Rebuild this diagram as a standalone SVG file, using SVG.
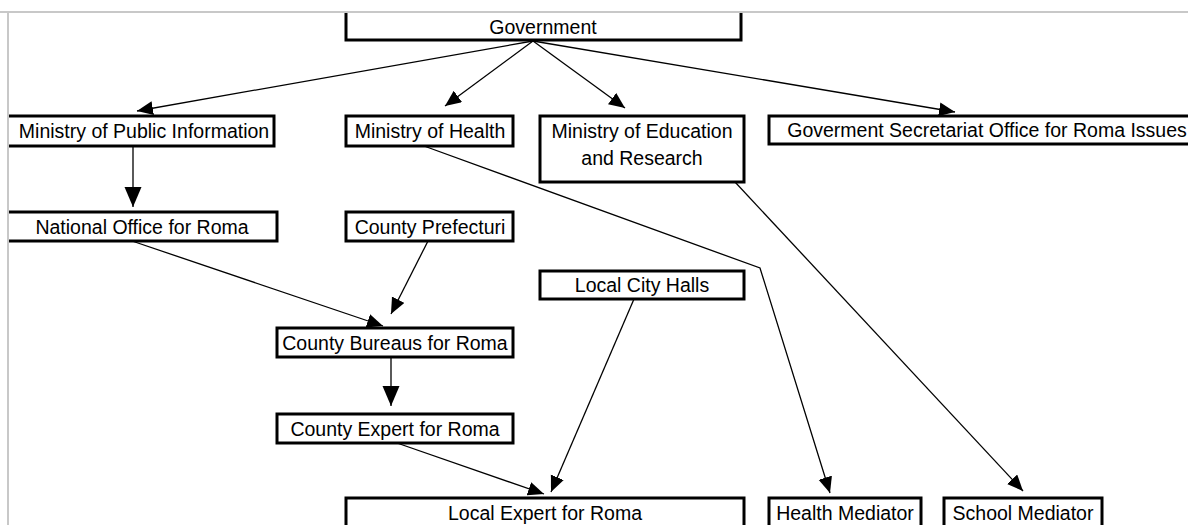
<svg xmlns="http://www.w3.org/2000/svg" width="1188" height="525" viewBox="0 0 1188 525">
  <style>
    .box { fill: #ffffff; stroke: #000000; stroke-width: 3; }
    .lbl { font-family: "Liberation Sans", Arial, sans-serif; font-size: 19.5px; fill: #000000; text-anchor: middle; }
    .con { fill: none; stroke: #000000; stroke-width: 1.3; }
    .frame { fill: none; stroke: #c8c8c8; stroke-width: 2; }
  </style>
  <defs>
    <marker id="ah" markerUnits="userSpaceOnUse" markerWidth="17" markerHeight="15" refX="16" refY="7" orient="auto">
      <path d="M0,0 L16,7 L0,14 z" fill="#000000"/>
    </marker>
    <marker id="ahL" markerUnits="userSpaceOnUse" markerWidth="21" markerHeight="18" refX="20" refY="8.5" orient="auto">
      <path d="M0,0 L20,8.5 L0,17 z" fill="#000000"/>
    </marker>
    <clipPath id="clip">
      <rect x="8" y="12" width="1180" height="513"/>
    </clipPath>
  </defs>
  <rect x="0" y="0" width="1188" height="525" fill="#ffffff"/>
  <g clip-path="url(#clip)">
    <g id="connectors">
      <line class="con" x1="533" y1="41" x2="137" y2="111" marker-end="url(#ah)"/>
      <line class="con" x1="533" y1="41" x2="445" y2="106" marker-end="url(#ah)"/>
      <line class="con" x1="533" y1="41" x2="625" y2="108" marker-end="url(#ah)"/>
      <line class="con" x1="533" y1="41" x2="955" y2="112" marker-end="url(#ah)"/>
      <line class="con" x1="133" y1="146" x2="133" y2="207" marker-end="url(#ahL)"/>
      <polyline class="con" points="424,146 760,268 830,493" marker-end="url(#ah)"/>
      <line class="con" x1="735" y1="182" x2="1023" y2="491" marker-end="url(#ah)"/>
      <line class="con" x1="132" y1="241" x2="383" y2="326" marker-end="url(#ah)"/>
      <line class="con" x1="428" y1="241" x2="391" y2="314" marker-end="url(#ah)"/>
      <line class="con" x1="391" y1="357" x2="391" y2="406" marker-end="url(#ahL)"/>
      <line class="con" x1="397" y1="443" x2="544" y2="494" marker-end="url(#ah)"/>
      <line class="con" x1="634" y1="299" x2="551" y2="492" marker-end="url(#ah)"/>
    </g>
    <g id="government">
      <rect class="box" x="346" y="0" width="395" height="40"/>
      <text class="lbl" x="543" y="34">Government</text>
    </g>
    <g id="ministry-public-information">
      <rect class="box" x="-5" y="116" width="279" height="30"/>
      <text class="lbl" x="144" y="138">Ministry of Public Information</text>
    </g>
    <g id="ministry-health">
      <rect class="box" x="346" y="116" width="167" height="30"/>
      <text class="lbl" x="430" y="138">Ministry of Health</text>
    </g>
    <g id="ministry-education">
      <rect class="box" x="540" y="116" width="204" height="66"/>
      <text class="lbl" x="642" y="138">Ministry of Education</text>
      <text class="lbl" x="642" y="165">and Research</text>
    </g>
    <g id="secretariat">
      <rect class="box" x="769" y="116" width="430" height="28"/>
      <text class="lbl" x="987" y="137">Goverment Secretariat Office for Roma Issues</text>
    </g>
    <g id="national-office">
      <rect class="box" x="-5" y="212" width="282" height="29"/>
      <text class="lbl" x="142" y="234">National Office for Roma</text>
    </g>
    <g id="county-prefecturi">
      <rect class="box" x="346" y="212" width="167" height="29"/>
      <text class="lbl" x="430" y="234">County Prefecturi</text>
    </g>
    <g id="local-city-halls">
      <rect class="box" x="540" y="271" width="204" height="28"/>
      <text class="lbl" x="642" y="292">Local City Halls</text>
    </g>
    <g id="county-bureaus">
      <rect class="box" x="277" y="328" width="236" height="29"/>
      <text class="lbl" x="395" y="350">County Bureaus for Roma</text>
    </g>
    <g id="county-expert">
      <rect class="box" x="277" y="414" width="236" height="29"/>
      <text class="lbl" x="395" y="436">County Expert for Roma</text>
    </g>
    <g id="local-expert">
      <rect class="box" x="346" y="498" width="398" height="40"/>
      <text class="lbl" x="545" y="520">Local Expert for Roma</text>
    </g>
    <g id="health-mediator">
      <rect class="box" x="769" y="498" width="152" height="40"/>
      <text class="lbl" x="845" y="520">Health Mediator</text>
    </g>
    <g id="school-mediator">
      <rect class="box" x="944" y="498" width="158" height="40"/>
      <text class="lbl" x="1023" y="520">School Mediator</text>
    </g>
  </g>
  <line class="frame" x1="0" y1="12" x2="1188" y2="12"/>
  <line class="frame" x1="8" y1="12" x2="8" y2="525"/>
</svg>
